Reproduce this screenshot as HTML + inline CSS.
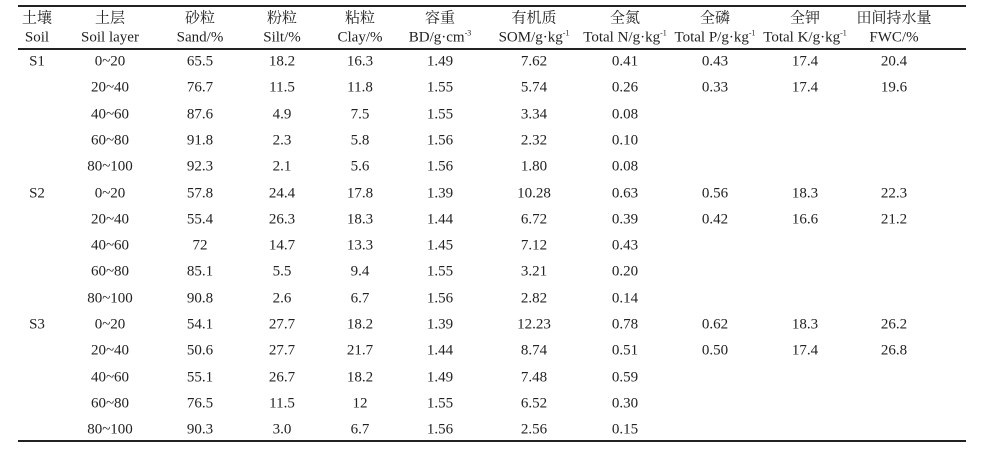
<!DOCTYPE html>
<html><head><meta charset="utf-8"><style>
body{margin:0;width:981px;height:455px;background:#fff;position:relative;overflow:hidden;font-family:"Liberation Serif","Noto Serif CJK SC",serif;color:#222;font-size:15px}
.t{position:absolute;transform:translate(-50%,-50%);white-space:nowrap;line-height:1}
.rule{position:absolute;left:18px;width:948px;background:#222}
sup{font-size:8px;vertical-align:6px;line-height:0}
</style></head><body>
<div class="rule" style="top:5px;height:2px"></div>
<div class="rule" style="top:48px;height:2px"></div>
<div class="rule" style="top:440px;height:2px"></div>
<div id="tbl"></div>
<script>
const cols=[37,110,200,282,360,440,534,625,715,805,894];
const head1=["土壤","土层","砂粒","粉粒","粘粒","容重","有机质","全氮","全磷","全钾","田间持水量"];
const head2=["Soil","Soil layer","Sand/%","Silt/%","Clay/%","BD/g·cm<sup>-3</sup>","SOM/g·kg<sup>-1</sup>","Total N/g·kg<sup>-1</sup>","Total P/g·kg<sup>-1</sup>","Total K/g·kg<sup>-1</sup>","FWC/%"];
const rows=[
["S1","0~20","65.5","18.2","16.3","1.49","7.62","0.41","0.43","17.4","20.4"],
["","20~40","76.7","11.5","11.8","1.55","5.74","0.26","0.33","17.4","19.6"],
["","40~60","87.6","4.9","7.5","1.55","3.34","0.08","","",""],
["","60~80","91.8","2.3","5.8","1.56","2.32","0.10","","",""],
["","80~100","92.3","2.1","5.6","1.56","1.80","0.08","","",""],
["S2","0~20","57.8","24.4","17.8","1.39","10.28","0.63","0.56","18.3","22.3"],
["","20~40","55.4","26.3","18.3","1.44","6.72","0.39","0.42","16.6","21.2"],
["","40~60","72","14.7","13.3","1.45","7.12","0.43","","",""],
["","60~80","85.1","5.5","9.4","1.55","3.21","0.20","","",""],
["","80~100","90.8","2.6","6.7","1.56","2.82","0.14","","",""],
["S3","0~20","54.1","27.7","18.2","1.39","12.23","0.78","0.62","18.3","26.2"],
["","20~40","50.6","27.7","21.7","1.44","8.74","0.51","0.50","17.4","26.8"],
["","40~60","55.1","26.7","18.2","1.49","7.48","0.59","","",""],
["","60~80","76.5","11.5","12","1.55","6.52","0.30","","",""],
["","80~100","90.3","3.0","6.7","1.56","2.56","0.15","","",""]];
const tbl=document.getElementById('tbl');
function put(html,x,y,name){const d=document.createElement('div');d.className='t';d.innerHTML=html;d.style.left=x+'px';d.style.top=y+'px';


tbl.appendChild(d);}
head1.forEach((h,i)=>put(h,cols[i],19,'header-cn-'+i));
head2.forEach((h,i)=>put(h,cols[i],38,'header-en-'+i));
rows.forEach((r,j)=>{const y=62+j*26.3;r.forEach((v,i)=>{if(v)put(v,cols[i],y,'cell-r'+j+'-c'+i);});});
</script>
</body></html>
